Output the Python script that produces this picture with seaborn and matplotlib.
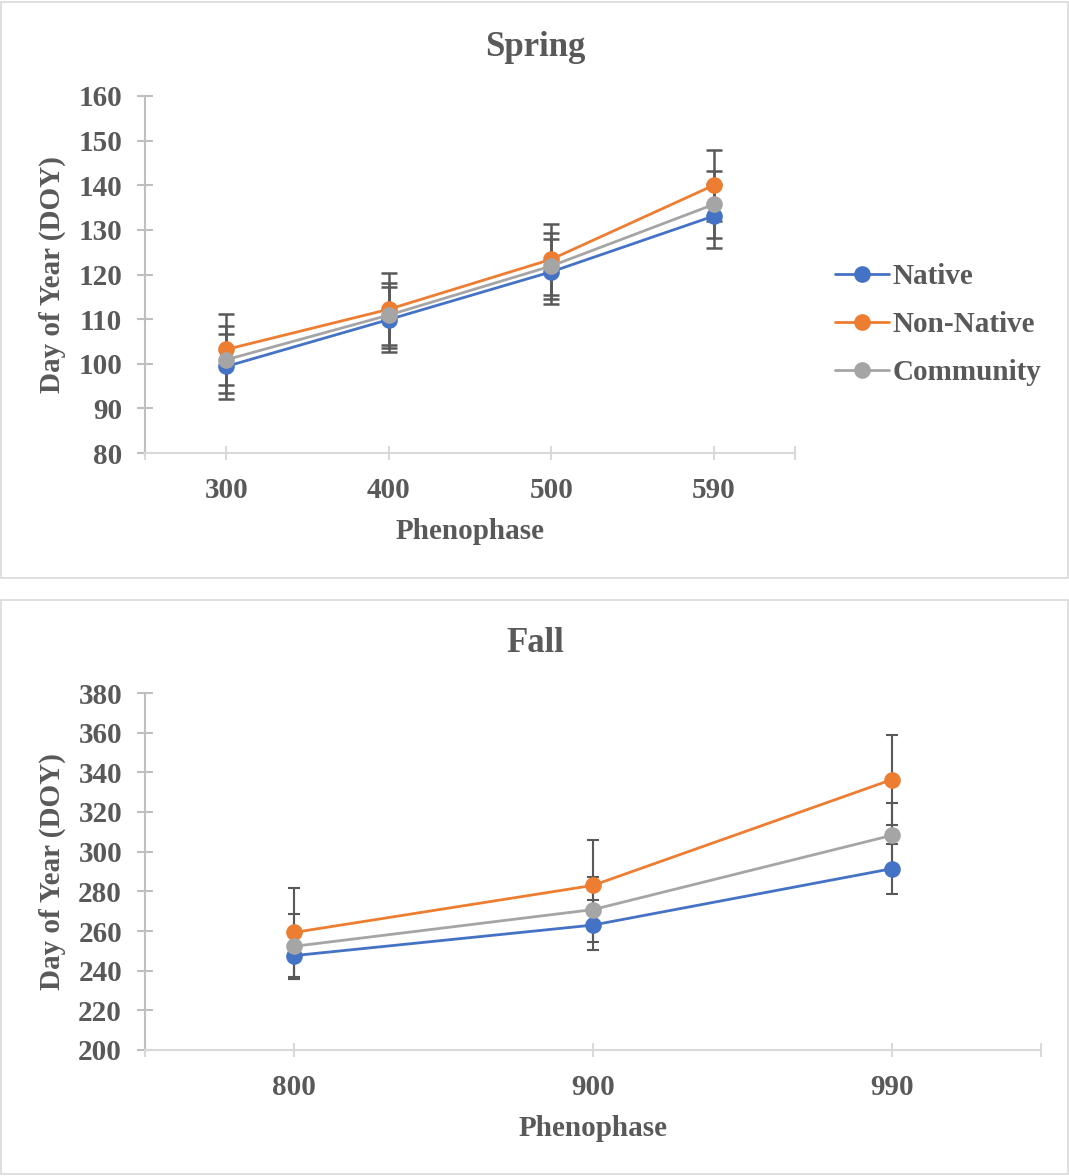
import matplotlib
matplotlib.use("Agg")
import matplotlib.pyplot as plt
from matplotlib.patches import Rectangle
from matplotlib.lines import Line2D
import seaborn as sns
import pandas as pd

sns.set_style("white")
plt.rcParams['font.family'] = ['Liberation Serif', 'DejaVu Serif']
plt.rcParams['font.weight'] = 'bold'

# ---- data ----
groups = ["Native", "Non-Native", "Community"]
colors = ["#4472C4", "#ED7D31", "#A5A5A5"]

spring_phases = ["300", "400", "500", "590"]
spring_native = [99.4, 109.9, 120.6, 133.1]
spring_nonnative = [103.2, 112.2, 123.4, 140.0]
spring_community = [100.9, 110.9, 121.9, 135.7]
spring_native_err = [7.2, 7.2, 7.3, 7.1]
spring_nonnative_err = [7.9, 8.1, 7.9, 8.0]
spring_community_err = [7.5, 7.3, 7.3, 7.5]

fall_phases = ["800", "900", "990"]
fall_native = [247.6, 263.0, 291.4]
fall_nonnative = [259.3, 283.0, 336.3]
fall_community = [252.3, 270.8, 308.2]
fall_native_err = [11.6, 12.7, 12.6]
fall_nonnative_err = [22.5, 22.7, 22.7]
fall_community_err = [16.3, 16.5, 16.5]

TXT = "#595959"
W, H = 1069, 1176
fig = plt.figure(figsize=(W / 100, H / 100), dpi=100)


def fx(px):
    return px / W


def fy(py):
    return 1 - py / H


def panel(rect_px, ax_px, phases, series, errs, ylim, yticks, title, title_y,
          xlabel_y, capsize, elw):
    x0, y0, x1, y1 = rect_px
    fig.patches.append(Rectangle((fx(x0), fy(y1)), fx(x1 - x0), (y1 - y0) / H,
                                 transform=fig.transFigure, fill=False,
                                 edgecolor="#d9d9d9", linewidth=1.2, zorder=0))
    l, t, r, b = ax_px
    ax = fig.add_axes([fx(l), fy(b), fx(r - l), (b - t) / H])
    rows = []
    for g, vals in zip(groups, series):
        for i, (p, v) in enumerate(zip(phases, vals)):
            rows.append({"pos": i, "phase": p, "doy": v, "group": g})
    df = pd.DataFrame(rows)
    pos = list(range(len(phases)))
    for g, vals, e in zip(groups, series, errs):
        ax.errorbar(pos, vals, yerr=e, fmt="none", ecolor="#595959",
                    elinewidth=elw, capsize=capsize, capthick=elw, zorder=1)
    sns.lineplot(data=df, x="pos", y="doy", hue="group", hue_order=groups,
                 palette=colors, marker="o", markersize=12, markeredgewidth=0,
                 linewidth=2.0, errorbar=None, sort=False, legend=False,
                 ax=ax, zorder=3)
    ax.set_xlim(-0.5, len(phases) - 0.5)
    ax.set_ylim(*ylim)
    ax.set_yticks(yticks)
    ax.set_yticklabels([str(v) for v in yticks])
    ax.set_xticks(pos)
    ax.set_xticklabels(phases)
    ax.set_xticks([-0.5, len(phases) - 0.5], minor=True)
    for s in ["top", "right"]:
        ax.spines[s].set_visible(False)
    ax.spines["left"].set_color("#bfbfbf")
    ax.spines["bottom"].set_color("#d9d9d9")
    ax.spines["left"].set_linewidth(1.5)
    ax.spines["bottom"].set_linewidth(1.5)
    ax.tick_params(axis="y", which="major", left=True, direction="inout",
                   length=11, width=1.5, color="#bfbfbf", labelsize=21,
                   labelcolor=TXT, pad=11)
    ax.tick_params(axis="x", which="both", bottom=True, direction="inout",
                   length=10, width=1.5, color="#d9d9d9", labelsize=21,
                   labelcolor=TXT, pad=12)
    ax.set_xlabel("")
    ax.set_ylabel("")
    for lab in ax.get_xticklabels() + ax.get_yticklabels():
        lab.set_fontweight("bold")
    fig.text(fx(535), fy(title_y), title, ha="center",
             va="center", fontsize=25, fontweight="bold", color=TXT)
    fig.text(fx((l + r) / 2), fy(xlabel_y), "Phenophase", ha="center",
             va="center", fontsize=21, fontweight="bold", color=TXT)
    fig.text(fx(52), fy((t + b) / 2), "Day of Year (DOY)", ha="center",
             va="center", rotation=90, fontsize=21, fontweight="bold",
             color=TXT)
    return ax


ax1 = panel((1, 2, 1068, 578), (145, 96, 795, 453), spring_phases,
            [spring_native, spring_nonnative, spring_community],
            [spring_native_err, spring_nonnative_err, spring_community_err],
            (80, 160), list(range(80, 161, 10)), "Spring", 47, 532, 5.5, 1.8)

ax2 = panel((1, 600, 1068, 1174), (145, 693, 1041, 1050), fall_phases,
            [fall_native, fall_nonnative, fall_community],
            [fall_native_err, fall_nonnative_err, fall_community_err],
            (200, 380), list(range(200, 381, 20)), "Fall", 643, 1129, 4.0, 1.5)

handles = [Line2D([0], [0], color=c, lw=2.0, marker="o", markersize=12,
                  markeredgewidth=0) for c in colors]
leg = fig.legend(handles, groups, loc="upper left",
                 bbox_to_anchor=(fx(835), fy(263)), frameon=False,
                 borderpad=0, borderaxespad=0, handlelength=1.85,
                 handletextpad=0.12, labelspacing=0.72,
                 prop={"size": 21, "weight": "bold"})
for t in leg.get_texts():
    t.set_color(TXT)

fig.savefig("out.png", dpi=100, facecolor="white")
